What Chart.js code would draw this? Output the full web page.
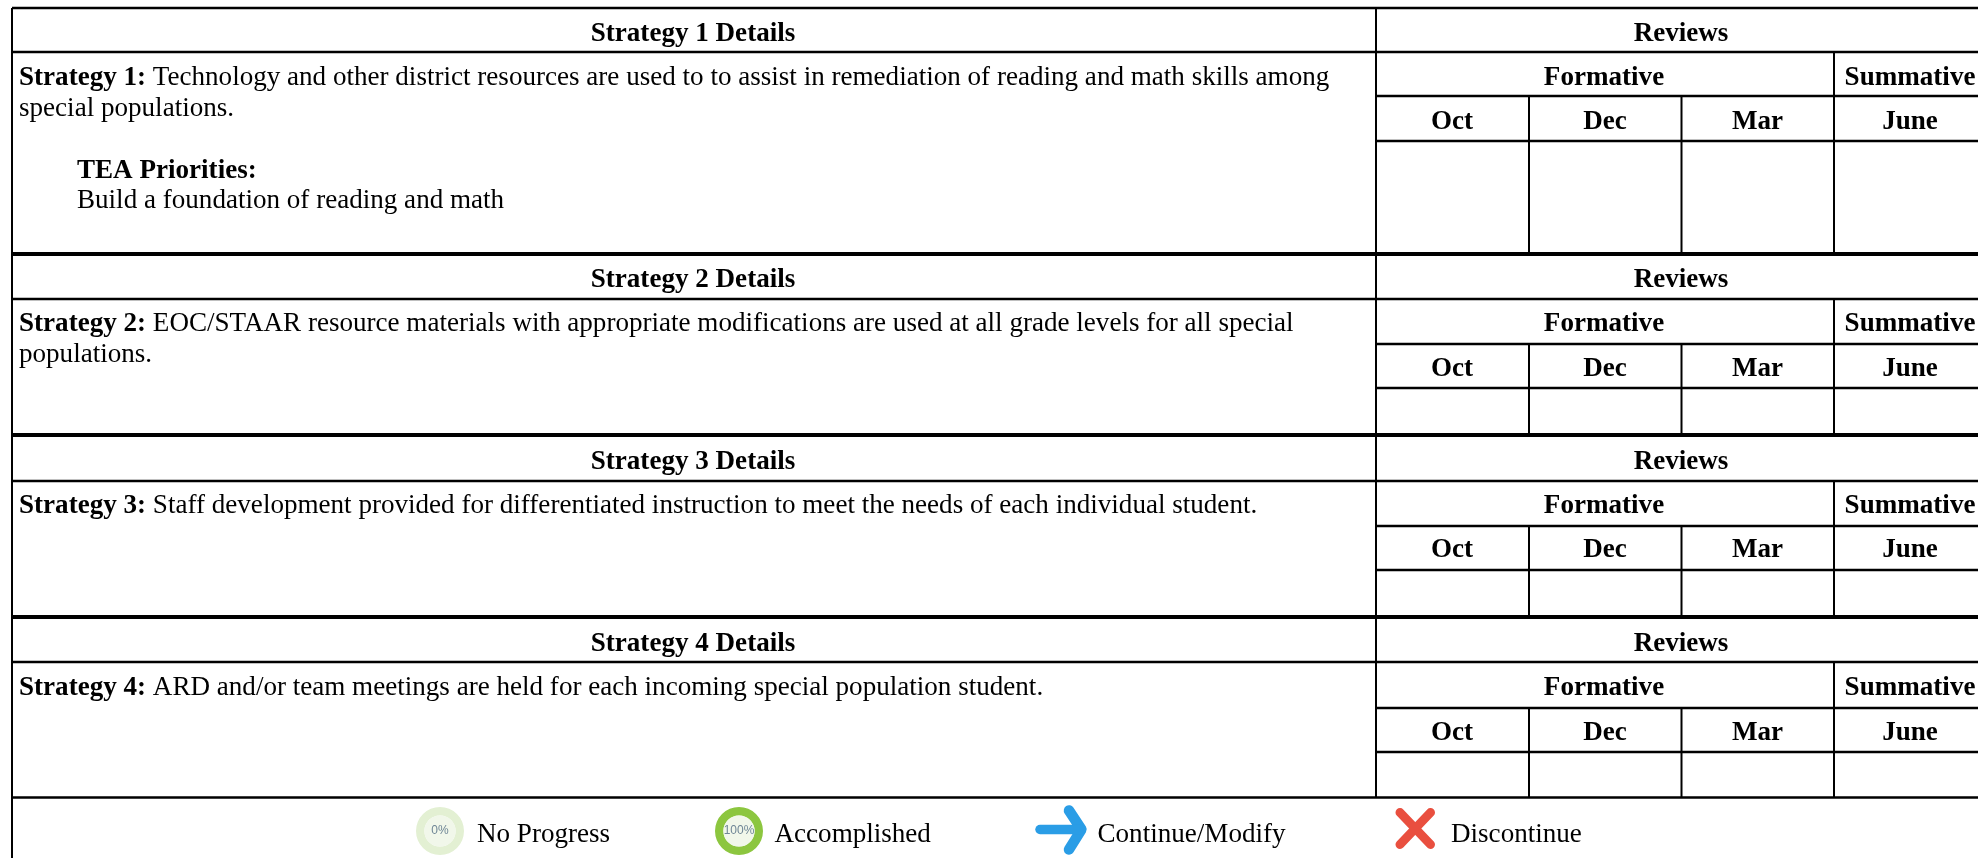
<!DOCTYPE html>
<html>
<head>
<meta charset="utf-8">
<style>
html,body{margin:0;padding:0;background:#fff;overflow:hidden}
#wrap{position:relative;width:1978px;height:858px;filter:blur(.45px)}
canvas{position:absolute}
</style>
<script src="https://cdn.jsdelivr.net/npm/chart.js@4"></script>
</head>
<body>
<div id="wrap">
<canvas id="table" width="1978" height="858" style="left:0;top:0"></canvas>
<canvas id="ringNone" width="48" height="48" style="left:416px;top:807px"></canvas>
<canvas id="ringDone" width="48" height="48" style="left:715px;top:807px"></canvas>
</div>
<script>
// ---- content ----
const strategyTitles = ["Strategy 1 Details","Strategy 2 Details","Strategy 3 Details","Strategy 4 Details"];
const strategyLeads = ["Strategy 1:","Strategy 2:","Strategy 3:","Strategy 4:"];
const strategyLines = [
  ["Technology and other district resources are used to to assist in remediation of reading and math skills among","special populations."],
  ["EOC/STAAR resource materials with appropriate modifications are used at all grade levels for all special","populations."],
  ["Staff development provided for differentiated instruction to meet the needs of each individual student."],
  ["ARD and/or team meetings are held for each incoming special population student."]
];
const priorityHeading = "TEA Priorities:";
const priorityText = "Build a foundation of reading and math";
const reviewsHeading = "Reviews";
const formativeHeading = "Formative";
const summativeHeading = "Summative";
const reviewMonths = ["Oct","Dec","Mar","June"];
const legendLabels = ["No Progress","Accomplished","Continue/Modify","Discontinue"];
const noProgressValues = [0,100];
const accomplishedValues = [100,0];

// ---- table geometry, in page pixels ----
const blockRules = [[8,52,96,141,253],[254,299,344,388,435],[435,481,526,570,617],[617,662,708,752,797.5]];
const blockBaselines = [[41,85,129],[287,331,376],[469,513,557],[651,695,740]];
const leftEdge = 12, reviewEdge = 1376, rightEdge = 1978, pageBottom = 858;
const monthEdges = [1529,1681.5,1834];
const monthCentres = [1452,1605,1757.5,1910];
const SERIF = '"Liberation Serif","Times New Roman",serif';
const FONT_PX = 27.08;

const rule = (x1,y1,x2,y2,w,color='#000') => ({
  type:'line', data:[{x:x1,y:y1},{x:x2,y:y2}], borderColor:color, borderWidth:w,
  pointRadius:0, tension:0, borderCapStyle:'butt', borderJoinStyle:'miter'
});
const stroke = (pts,w,color) => ({
  type:'line', data:pts.map(p=>({x:p[0],y:p[1]})), borderColor:color, borderWidth:w,
  pointRadius:0, tension:0, borderCapStyle:'round', borderJoinStyle:'round'
});

const datasets = [];
blockRules.forEach((r,b)=>{
  datasets.push(rule(leftEdge,r[0],rightEdge,r[0], b===0?2.5:4));
  datasets.push(rule(leftEdge,r[1],rightEdge,r[1],2.5));
  datasets.push(rule(reviewEdge,r[2],rightEdge,r[2],2.5));
  datasets.push(rule(reviewEdge,r[3],rightEdge,r[3],2.5));
  datasets.push(rule(reviewEdge,r[0],reviewEdge,r[4],2));
  datasets.push(rule(monthEdges[2],r[1],monthEdges[2],r[4],2));
  datasets.push(rule(monthEdges[0],r[2],monthEdges[0],r[4],2));
  datasets.push(rule(monthEdges[1],r[2],monthEdges[1],r[4],2));
});
datasets.push(rule(leftEdge,blockRules[3][4],rightEdge,blockRules[3][4],2.5));
datasets.push(rule(leftEdge,8,leftEdge,pageBottom,2));
// legend glyphs
datasets.push(stroke([[1040,829.5],[1081,829.5]],9.5,'#2a9de6'));
datasets.push(stroke([[1069,810.5],[1081.5,829.5],[1069,849.5]],10.5,'#2a9de6'));
datasets.push(stroke([[1400,812.5],[1430.5,844.5]],9,'#e94f3f'));
datasets.push(stroke([[1430.5,812.5],[1400,844.5]],9,'#e94f3f'));

const tableText = {
  id:'tableText',
  afterDatasetsDraw(chart){
    const c = chart.ctx;
    const bold = `bold ${FONT_PX}px ${SERIF}`, reg = `${FONT_PX}px ${SERIF}`;
    const put = (s,x,y,font,align='left') => {
      c.font = font; c.textAlign = align; c.textBaseline = 'alphabetic'; c.fillStyle = '#000';
      c.fillText(s,x,y);
    };
    c.save();
    blockBaselines.forEach((b,i)=>{
      put(strategyTitles[i],(leftEdge+reviewEdge)/2-1,b[0],bold,'center');
      put(reviewsHeading,monthCentres[0]+(monthCentres[3]-monthCentres[0])/2,b[0],bold,'center');
      put(formativeHeading,monthCentres[1]-1,b[1],bold,'center');
      put(summativeHeading,monthCentres[3],b[1],bold,'center');
      reviewMonths.forEach((m,k)=>put(m,monthCentres[k],b[2],bold,'center'));
      put(strategyLeads[i],19,b[1],bold);
      c.font = bold;
      const w = c.measureText(strategyLeads[i]).width;
      c.font = reg;
      const gap = c.measureText(' ').width;
      put(strategyLines[i][0],19+w+gap,b[1],reg);
      if(strategyLines[i][1]) put(strategyLines[i][1],19,b[1]+31,reg);
    });
    put(priorityHeading,77,178,bold);
    put(priorityText,77,208,reg);
    [477,774.5,1097.5,1451].forEach((x,i)=>put(legendLabels[i],x,842,reg));
    c.restore();
  }
};

new Chart(document.getElementById('table'),{
  type:'scatter',
  data:{datasets},
  plugins:[tableText],
  options:{
    responsive:false, animation:false, events:[],
    layout:{padding:0},
    plugins:{legend:{display:false},tooltip:{enabled:false}},
    scales:{
      x:{type:'linear',display:false,min:0,max:1978},
      y:{type:'linear',display:false,min:0,max:858,reverse:true}
    }
  }
});

// progress rings
const ringCentre = (label,color)=>({
  id:'ringCentre',
  afterDraw(chart){
    const c = chart.ctx, a = chart.getDatasetMeta(0).data[0];
    c.save();
    c.beginPath(); c.arc(a.x,a.y,a.innerRadius,0,Math.PI*2); c.fillStyle='#f1f7ea'; c.fill();
    c.font='12px "Liberation Sans",Arial,sans-serif'; c.fillStyle=color;
    c.textAlign='center'; c.textBaseline='middle'; c.fillText(label,a.x,a.y);
    c.restore();
  }
});
const ring = (id,values,label)=>new Chart(document.getElementById(id),{
  type:'doughnut',
  data:{labels:['Done','Remaining'],datasets:[{data:values,backgroundColor:['#8cc63f','#e3f0d3'],borderWidth:0}]},
  plugins:[ringCentre(label,'#6f8696')],
  options:{responsive:false,animation:false,events:[],cutout:'65%',layout:{padding:0},
    plugins:{legend:{display:false},tooltip:{enabled:false}}}
});
ring('ringNone',noProgressValues,'0%');
ring('ringDone',accomplishedValues,'100%');
</script>
</body>
</html>
